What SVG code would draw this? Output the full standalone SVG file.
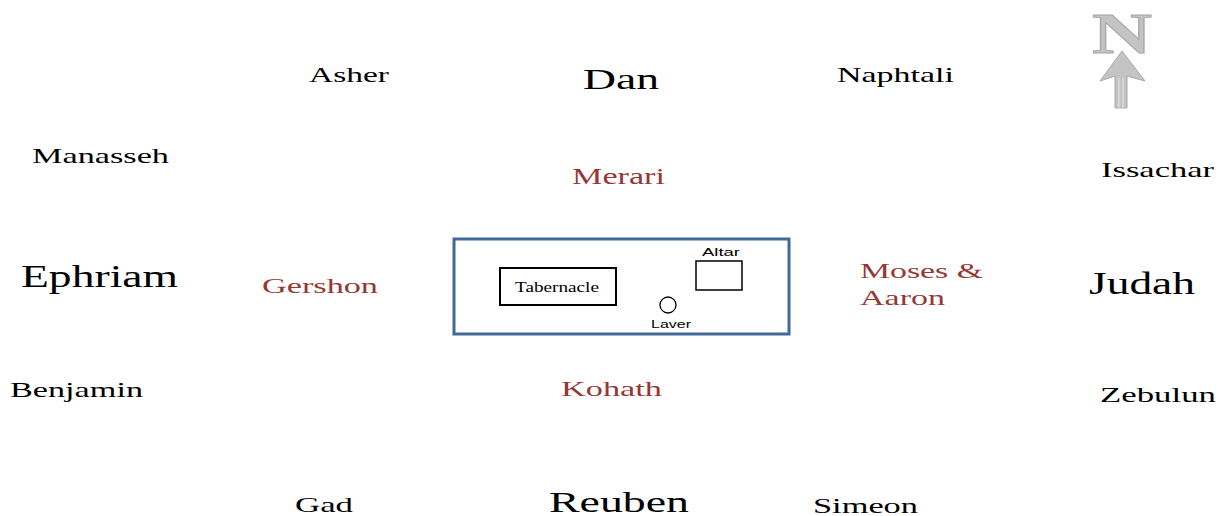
<svg xmlns="http://www.w3.org/2000/svg" width="1223" height="516" viewBox="0 0 1223 516">
  <style>
    .tribe { font-family: "Liberation Serif", "Times New Roman", serif; fill: #000000; }
    .levite { font-family: "Liberation Serif", "Times New Roman", serif; fill: #953735; }
    .small { font-family: "Liberation Sans", Arial, sans-serif; font-size: 11px; fill: #000000; }
    .court { fill: #ffffff; stroke: #41699A; stroke-width: 3; }
    .item { fill: none; stroke: #000000; }
    .compass { fill: #C4C4C4; stroke: #A8A8A8; stroke-width: 1; }
  </style>
  <rect width="1223" height="516" fill="#ffffff"/>

  <!-- North marker -->
  <g id="north">
    <text x="1092" y="53" font-family="Liberation Serif, serif" font-weight="bold" font-size="58" textLength="60" lengthAdjust="spacingAndGlyphs" class="compass">N</text>
    <polygon class="compass" points="1122,51 1145,81 1127,76 1127,108 1115,108 1115,76 1100,81"/>
    <line x1="1119" y1="78" x2="1119" y2="108" stroke="#E6E6E6" stroke-width="1"/>
    <line x1="1123" y1="78" x2="1123" y2="108" stroke="#E6E6E6" stroke-width="1"/>
  </g>

  <!-- Northern camp -->
  <g id="asher"><text class="tribe" x="309" y="82" font-size="21" textLength="80" lengthAdjust="spacingAndGlyphs">Asher</text></g>
  <g id="dan"><text class="tribe" x="583" y="89" font-size="30" textLength="76" lengthAdjust="spacingAndGlyphs">Dan</text></g>
  <g id="naphtali"><text class="tribe" x="837" y="82" font-size="21" textLength="117" lengthAdjust="spacingAndGlyphs">Naphtali</text></g>

  <!-- Western camp -->
  <g id="manasseh"><text class="tribe" x="32" y="163" font-size="22" textLength="137" lengthAdjust="spacingAndGlyphs">Manasseh</text></g>
  <g id="ephriam"><text class="tribe" x="21" y="287" font-size="32" textLength="157" lengthAdjust="spacingAndGlyphs">Ephriam</text></g>
  <g id="benjamin"><text class="tribe" x="10" y="397" font-size="22" textLength="133" lengthAdjust="spacingAndGlyphs">Benjamin</text></g>

  <!-- Eastern camp -->
  <g id="issachar"><text class="tribe" x="1101" y="177" font-size="21" textLength="113" lengthAdjust="spacingAndGlyphs">Issachar</text></g>
  <g id="judah"><text class="tribe" x="1089" y="294" font-size="32" textLength="106" lengthAdjust="spacingAndGlyphs">Judah</text></g>
  <g id="zebulun"><text class="tribe" x="1100" y="402" font-size="21" textLength="116" lengthAdjust="spacingAndGlyphs">Zebulun</text></g>

  <!-- Southern camp -->
  <g id="gad"><text class="tribe" x="295" y="512" font-size="21" textLength="58" lengthAdjust="spacingAndGlyphs">Gad</text></g>
  <g id="reuben"><text class="tribe" x="549" y="512" font-size="29" textLength="140" lengthAdjust="spacingAndGlyphs">Reuben</text></g>
  <g id="simeon"><text class="tribe" x="813" y="513" font-size="20" textLength="105" lengthAdjust="spacingAndGlyphs">Simeon</text></g>

  <!-- Levite clans -->
  <g id="merari"><text class="levite" x="572" y="184" font-size="23" textLength="93" lengthAdjust="spacingAndGlyphs">Merari</text></g>
  <g id="gershon"><text class="levite" x="262" y="293" font-size="22" textLength="116" lengthAdjust="spacingAndGlyphs">Gershon</text></g>
  <g id="kohath"><text class="levite" x="561" y="396" font-size="22" textLength="101" lengthAdjust="spacingAndGlyphs">Kohath</text></g>
  <g id="moses-aaron">
    <text class="levite" x="860" y="278" font-size="22" textLength="123" lengthAdjust="spacingAndGlyphs">Moses &amp;</text>
    <text class="levite" x="860" y="305" font-size="22" textLength="85" lengthAdjust="spacingAndGlyphs">Aaron</text>
  </g>

  <!-- Courtyard with furnishings -->
  <g id="courtyard">
    <rect class="court" x="454" y="239" width="335" height="95"/>
  </g>
  <g id="tabernacle">
    <rect class="item" x="500" y="268" width="116" height="37" stroke-width="2"/>
    <text x="515" y="292" font-family="Liberation Serif, serif" font-size="14" textLength="84" lengthAdjust="spacingAndGlyphs">Tabernacle</text>
  </g>
  <g id="altar">
    <rect class="item" x="696" y="261" width="46" height="29" stroke-width="1.5"/>
    <text class="small" x="702" y="256" textLength="38" lengthAdjust="spacingAndGlyphs">Altar</text>
  </g>
  <g id="laver">
    <circle class="item" cx="668" cy="305" r="8" stroke-width="1.3"/>
    <text class="small" x="651" y="328" textLength="40" lengthAdjust="spacingAndGlyphs">Laver</text>
  </g>
</svg>
